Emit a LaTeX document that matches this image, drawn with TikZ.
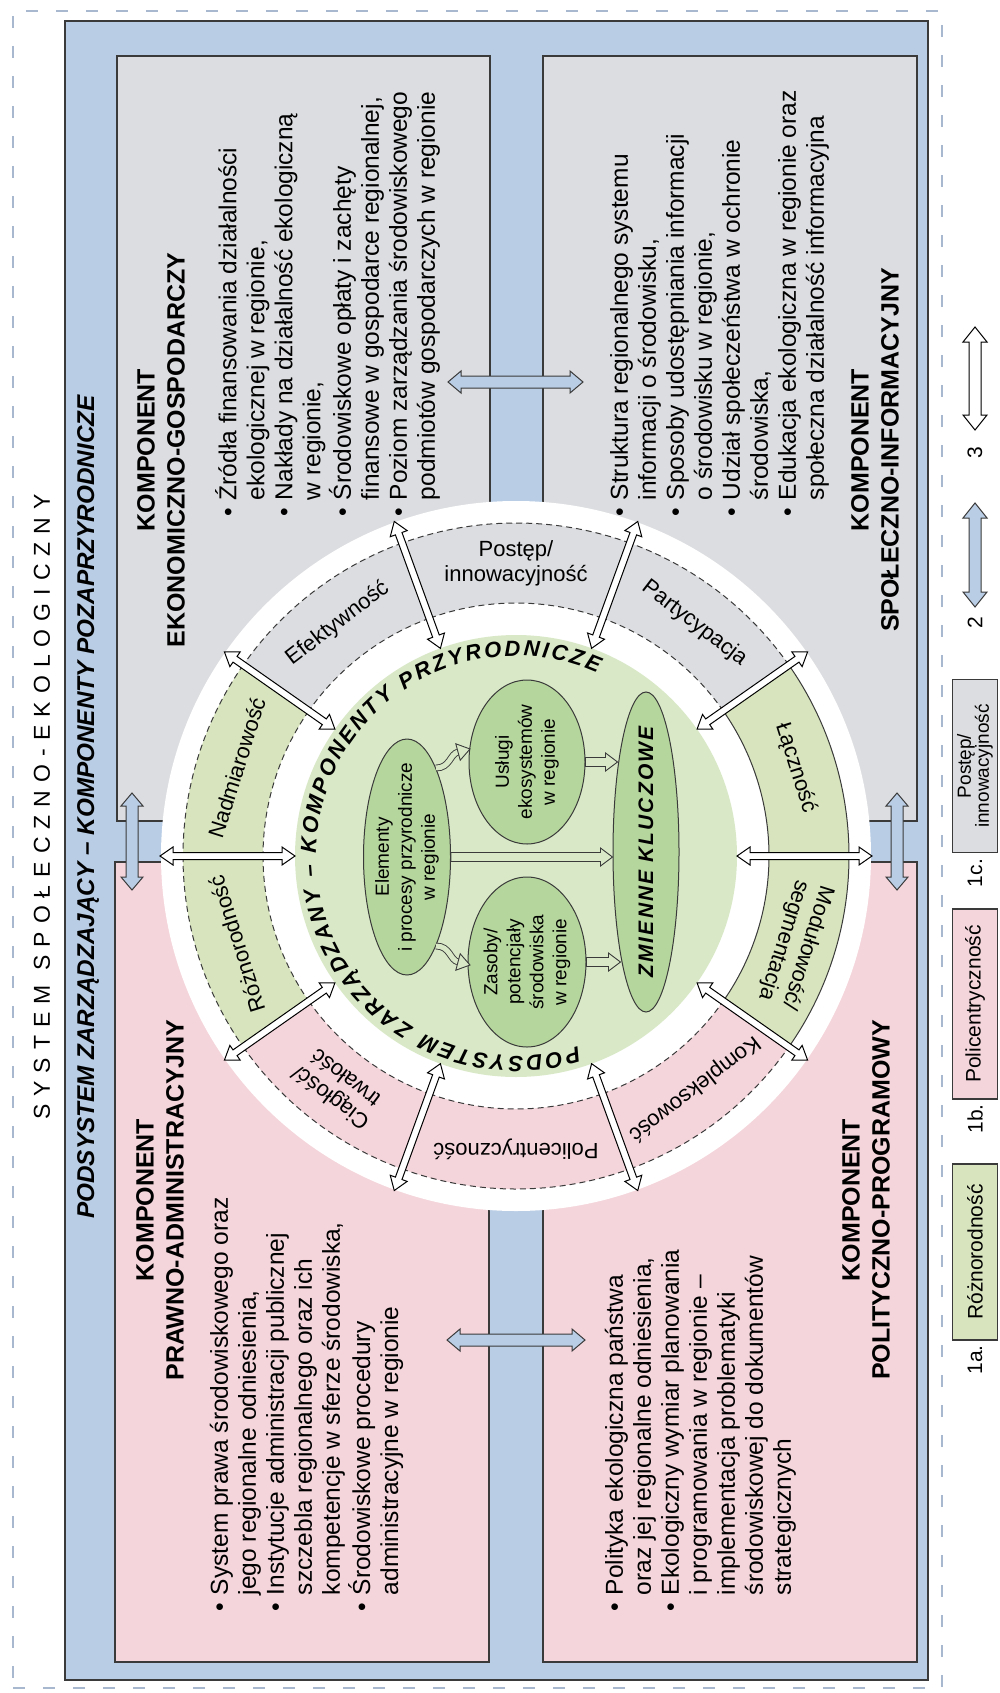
\documentclass[tikz,border=0pt]{standalone}
\usepackage{fontspec}
\setmainfont{Liberation Sans}
\usetikzlibrary{calc,shapes.geometric,decorations.text}
\definecolor{frameblue}{HTML}{B9CDE5}
\definecolor{boxgrey}{HTML}{DCDDE0}
\definecolor{boxpink}{HTML}{F4D5DB}
\definecolor{bandgreen}{HTML}{D7E4BD}
\definecolor{diskgreen}{HTML}{D9E9C7}
\definecolor{ellgreen}{HTML}{B5D69C}
\definecolor{edgegrey}{HTML}{3A3A3A}
\definecolor{dashblue}{HTML}{A7B8CF}
\newcommand{\blockarrow}[6]{%
  \coordinate (tmpP) at ($(#2)!#5!(#1)$);
  \draw[#6] ($(#1)!#3!90:(#2)$) -- ($(tmpP)!#3!-90:(#1)$) -- ($(tmpP)!#4!-90:(#1)$) -- (#2)
    -- ($(tmpP)!#4!90:(#1)$) -- ($(tmpP)!#3!90:(#1)$) -- ($(#1)!#3!-90:(#2)$) -- cycle;}
\newcommand{\dblarrow}[6]{%
  \coordinate (tmpP) at ($(#2)!#5!(#1)$);
  \coordinate (tmpQ) at ($(#1)!#5!(#2)$);
  \draw[#6] (#1) -- ($(tmpQ)!#4!90:(#2)$) -- ($(tmpQ)!#3!90:(#2)$)
    -- ($(tmpP)!#3!-90:(#1)$) -- ($(tmpP)!#4!-90:(#1)$) -- (#2)
    -- ($(tmpP)!#4!90:(#1)$) -- ($(tmpP)!#3!90:(#1)$)
    -- ($(tmpQ)!#3!-90:(#2)$) -- ($(tmpQ)!#4!-90:(#2)$) -- cycle;}
\newcommand{\ringsector}[4]{%
  \fill[#3] ($(C)+(#1:333)$) arc[start angle=#1,end angle=#2,radius=333]
    -- ($(C)+(#2:253)$) arc[start angle=#2,end angle=#1,radius=253] -- cycle;
  \draw[#4] ($(C)+(#1:333)$) arc[start angle=#1,end angle=#2,radius=333];
  \draw[#4] ($(C)+(#1:253)$) arc[start angle=#1,end angle=#2,radius=253];}
\newcommand{\diskfont}{\bfseries\itshape\fontsize{22}{22}\selectfont}
\begin{document}
\begin{tikzpicture}[x=1pt,y=1pt,
  boxedge/.style={draw=edgegrey, line width=1.6pt, inner sep=0pt, outer sep=0pt},
  hdr/.style={rotate=90, align=center, inner sep=0pt, font=\bfseries\fontsize{25}{30}\selectfont},
  bul/.style={rotate=90, inner sep=0pt, anchor=north west, font=\fontsize{24.5}{28}\selectfont},
  ringlbl/.style={align=center, inner sep=0pt, font=\fontsize{22}{25}\selectfont},
  ellshape/.style={ellipse, draw=edgegrey, line width=1pt, fill=ellgreen, inner sep=0pt},
  elltext/.style={rotate=90, align=center, inner sep=0pt, font=\fontsize{19}{23}\selectfont},
  whitearrow/.style={fill=white, draw=black, line width=1pt},
  bluearrow/.style={fill=frameblue, draw=edgegrey, line width=1pt},
  greenarrow/.style={fill=diskgreen, draw=edgegrey, line width=0.9pt},
  legbox/.style={draw=edgegrey, line width=1.3pt, rotate=90, align=center, inner sep=0pt, font=\fontsize{21}{20}\selectfont},
  legnum/.style={rotate=90, inner sep=0pt, font=\fontsize{21}{21}\selectfont},
  dasharc/.style={draw=edgegrey, line width=1pt, dash pattern=on 6pt off 4pt},
  solidarc/.style={draw=edgegrey, line width=1pt}
]
\useasboundingbox (0,0) rectangle (1000,-1693);
% frames
\node[draw=dashblue, line width=2.6pt, dash pattern=on 12pt off 18pt, minimum width=929, minimum height=1677, inner sep=0pt] (outer) at (477.5,-849.5) {};
\node[boxedge, fill=frameblue, minimum width=863, minimum height=1659] (frame) at (496.5,-850.5) {};
% component boxes
\node[boxedge, fill=boxgrey, minimum width=373, minimum height=765] (econ) at (303.5,-438.5) {};
\node[boxedge, fill=boxgrey, minimum width=374, minimum height=765] (spol) at (730,-438.5) {};
\node[boxedge, fill=boxpink, minimum width=374, minimum height=800] (prawo) at (302,-1262) {};
\node[boxedge, fill=boxpink, minimum width=374, minimum height=800] (polit) at (730,-1262) {};
% circle
\coordinate (C) at (516,-856);
\fill[white] (C) circle[radius=355];
\ringsector{0}{35}{bandgreen}{solidarc}
\ringsector{35}{70}{boxgrey}{dasharc}
\ringsector{70}{110}{boxgrey}{dasharc}
\ringsector{110}{145}{boxgrey}{dasharc}
\ringsector{145}{180}{bandgreen}{dasharc}
\ringsector{180}{215}{bandgreen}{dasharc}
\ringsector{215}{250}{boxpink}{dasharc}
\ringsector{250}{290}{boxpink}{dasharc}
\ringsector{290}{325}{boxpink}{dasharc}
\ringsector{325}{360}{bandgreen}{solidarc}
\node[ringlbl, rotate=-72.5] (s1) at ($(C)+(17.5:293)$) {Łączność};
\node[ringlbl, rotate=-37.5] (s2) at ($(C)+(52.5:293)$) {Partycypacja};
\node[ringlbl] (s3) at ($(C)+(90:293)$) {Postęp/\\innowacyjność};
\node[ringlbl, rotate=37.5] (s4) at ($(C)+(127.5:293)$) {Efektywność};
\node[ringlbl, rotate=72.5] (s5) at ($(C)+(162.5:293)$) {Nadmiarowość};
\node[ringlbl, rotate=107.5] (s6) at ($(C)+(197.5:293)$) {Różnorodność};
\node[ringlbl, rotate=142.5] (s7) at ($(C)+(232.5:293)$) {Ciągłość/\\trwałość};
\node[ringlbl, rotate=180] (s8) at ($(C)+(270:293)$) {Policentryczność};
\node[ringlbl, rotate=217.5] (s9) at ($(C)+(307.5:293)$) {Kompleksowość};
\node[ringlbl, rotate=252.5] (s10) at ($(C)+(342.5:293)$) {Modułowość/\\segmentacja};
% inner disk
\fill[diskgreen] (C) circle[radius=221];
\path[decorate, decoration={text along path, text align={fit to path},
  text={|\diskfont|PODSYSTEM ZARZĄDZANY – KOMPONENTY PRZYRODNICZE}}]
  ($(C)+(288:200)$) arc[start angle=288, end angle=66, radius=200];
% ellipses
\node[ellshape, minimum width=87, minimum height=236] (elem) at (407,-857) {};
\node[elltext] (elemt) at (elem.center) {Elementy\\i procesy przyrodnicze\\w regionie};
\node[ellshape, minimum width=116, minimum height=164] (usl) at (527,-762) {};
\node[elltext] (uslt) at (usl.center) {Usługi\\ekosystemów\\w regionie};
\node[ellshape, minimum width=118, minimum height=170] (zas) at (527,-962) {};
\node[elltext] (zast) at (zas.center) {Zasoby/\\potencjały\\środowiska\\w regionie};
\node[ellshape, minimum width=66, minimum height=320] (zm) at (646,-852) {};
\node[rotate=90, inner sep=0pt, font=\bfseries\itshape\fontsize{21}{21}\selectfont\addfontfeature{LetterSpace=10}] (zmt) at (zm.center) {ZMIENNE KLUCZOWE};
% inner arrows
\coordinate (a1s) at (elem.east);
\coordinate (a1e) at (elem.east -| zm.west);
\blockarrow{a1s}{a1e}{4.5pt}{9pt}{12pt}{greenarrow}
\coordinate (a2s) at (usl.east);
\coordinate (a2e) at ($(usl.east -| zm.west)+(5,0)$);
\blockarrow{a2s}{a2e}{4.5pt}{9pt}{12pt}{greenarrow}
\coordinate (a3s) at (zas.east);
\coordinate (a3e) at ($(zas.east -| zm.west)+(8,0)$);
\blockarrow{a3s}{a3e}{4.5pt}{9pt}{12pt}{greenarrow}
\coordinate (c1s) at (436,-768);
\coordinate (c1e) at (458,-752);
\coordinate (c1t) at (470,-749);
\draw[draw=edgegrey, line width=0.9pt, double=diskgreen, double distance=5pt] (c1s) .. controls (450,-768) and (450,-754) .. (c1e);
\draw[greenarrow] (c1t) -- ($(c1e)+(105:8.5)$) -- ($(c1e)+(-75:8.5)$) -- cycle;
\coordinate (c2s) at (436,-946);
\coordinate (c2e) at (458,-962);
\coordinate (c2t) at (470,-965);
\draw[draw=edgegrey, line width=0.9pt, double=diskgreen, double distance=5pt] (c2s) .. controls (450,-946) and (450,-960) .. (c2e);
\draw[greenarrow] (c2t) -- ($(c2e)+(75:8.5)$) -- ($(c2e)+(-105:8.5)$) -- cycle;
% ring arrows
\foreach \ang in {0,35,70,110,145,180,215,250,290,325} {
  \coordinate (ro\ang) at ($(C)+(\ang:356)$);
  \coordinate (ri\ang) at ($(C)+(\ang:221)$);
  \dblarrow{ro\ang}{ri\ang}{3.5pt}{9pt}{13pt}{whitearrow}
}
% titles
\node[rotate=90, inner sep=0pt, font=\fontsize{23}{23}\selectfont\addfontfeature{LetterSpace=35}] (title) at (42,-807) {SYSTEM SPOŁECZNO-EKOLOGICZNY};
\node[rotate=90, inner sep=0pt, font=\bfseries\itshape\fontsize{24.3}{24}\selectfont] (subtitle) at (88,-807) {PODSYSTEM ZARZĄDZAJĄCY – KOMPONENTY POZAPRZYRODNICZE};
% headers
\node[hdr] (econh) at (161,-450) {KOMPONENT\\EKONOMICZNO-GOSPODARCZY};
\node[hdr] (spolh) at (875,-450) {KOMPONENT\\SPOŁECZNO-INFORMACYJNY};
\node[hdr] (prawoh) at (160,-1200) {KOMPONENT\\PRAWNO-ADMINISTRACYJNY};
\node[hdr] (polith) at (866,-1200) {KOMPONENT\\POLITYCZNO-PROGRAMOWY};
% bullet lists
\node[bul] (econb) at (215,-517) {\begin{tabular}{@{}l@{\hspace{8pt}}l@{}}
\textbullet & Źródła finansowania działalności\\
 & ekologicznej w regionie,\\
\textbullet & Nakłady na działalność ekologiczną\\
 & w regionie,\\
\textbullet & Środowiskowe opłaty i zachęty\\
 & finansowe w gospodarce regionalnej,\\
\textbullet & Poziom zarządzania środowiskowego\\
 & podmiotów gospodarczych w regionie
\end{tabular}};
\node[bul] (spolb) at (608,-517) {\begin{tabular}{@{}l@{\hspace{8pt}}l@{}}
\textbullet & Struktura regionalnego systemu\\
 & informacji o środowisku,\\
\textbullet & Sposoby udostępniania informacji\\
 & o środowisku w regionie,\\
\textbullet & Udział społeczeństwa w ochronie\\
 & środowiska,\\
\textbullet & Edukacja ekologiczna w regionie oraz\\
 & społeczna działalność informacyjna
\end{tabular}};
\node[bul] (prawob) at (208,-1612) {\begin{tabular}{@{}l@{\hspace{8pt}}l@{}}
\textbullet & System prawa środowiskowego oraz\\
 & jego regionalne odniesienia,\\
\textbullet & Instytucje administracji publicznej\\
 & szczebla regionalnego oraz ich\\
 & kompetencje w sferze środowiska,\\
\textbullet & Środowiskowe procedury\\
 & administracyjne w regionie
\end{tabular}};
\node[bul] (politb) at (603,-1612) {\begin{tabular}{@{}l@{\hspace{8pt}}l@{}}
\textbullet & Polityka ekologiczna państwa\\
 & oraz jej regionalne odniesienia,\\
\textbullet & Ekologiczny wymiar planowania\\
 & i programowania w regionie --\\
 & implementacja problematyki\\
 & środowiskowej do dokumentów\\
 & strategicznych
\end{tabular}};
% blue arrows between components
\coordinate (b1a) at (448,-382);
\coordinate (b1b) at (583,-382);
\dblarrow{b1a}{b1b}{6pt}{11pt}{13pt}{bluearrow}
\coordinate (b2a) at (447,-1340);
\coordinate (b2b) at (585,-1340);
\dblarrow{b2a}{b2b}{6pt}{11pt}{13pt}{bluearrow}
\coordinate (b3a) at (132,-793);
\coordinate (b3b) at (132,-890);
\dblarrow{b3a}{b3b}{6pt}{11pt}{13pt}{bluearrow}
\coordinate (b4a) at (897,-793);
\coordinate (b4b) at (897,-890);
\dblarrow{b4a}{b4b}{6pt}{11pt}{13pt}{bluearrow}
% legend
\node[legbox, fill=bandgreen, minimum width=176, minimum height=45] (lg1) at (975,-1252) {Różnorodność};
\node[legnum] (l1a) at (975,-1360) {1a.};
\node[legbox, fill=boxpink, minimum width=190, minimum height=45] (lg2) at (975,-1004) {Policentryczność};
\node[legnum] (l1b) at (975,-1119) {1b.};
\node[legbox, fill=boxgrey, minimum width=173, minimum height=45, font=\fontsize{19}{18}\selectfont] (lg3) at (975,-766) {Postęp/\\innowacyjność};
\node[legnum] (l1c) at (975,-873) {1c.};
\node[legnum] (l2) at (975,-623) {2};
\node[legnum] (l3) at (975,-453) {3};
\coordinate (lb1) at (975,-503);
\coordinate (lb2) at (975,-607);
\dblarrow{lb1}{lb2}{6pt}{12pt}{15pt}{bluearrow}
\coordinate (lw1) at (975,-327);
\coordinate (lw2) at (975,-430);
\dblarrow{lw1}{lw2}{6pt}{12pt}{15pt}{whitearrow}
\end{tikzpicture}
\end{document}
